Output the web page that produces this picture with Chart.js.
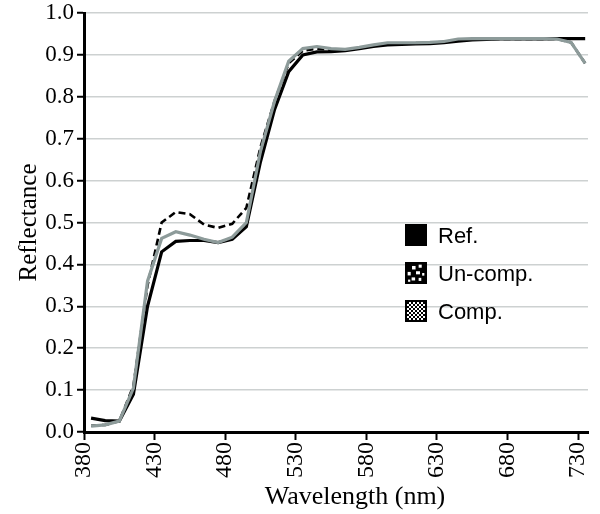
<!DOCTYPE html>
<html><head><meta charset="utf-8">
<script src="https://cdn.jsdelivr.net/npm/chart.js@4.4.0/dist/chart.umd.min.js"></script>
<style>html,body{margin:0;padding:0;background:#fff}</style>
</head><body>
<canvas id="c" width="600" height="514"></canvas>
<script>
const wavelengths = [385,395,405,415,425,435,445,455,465,475,485,495,505,515,525,535,545,555,565,575,585,595,605,615,625,635,645,655,665,675,685,695,705,715,725,735];
const refValues = [0.033,0.027,0.026,0.09,0.30,0.43,0.455,0.457,0.457,0.452,0.46,0.49,0.645,0.77,0.86,0.90,0.907,0.908,0.91,0.915,0.92,0.924,0.925,0.926,0.927,0.929,0.933,0.936,0.937,0.938,0.938,0.938,0.938,0.939,0.939,0.939];
const uncompValues = [0.015,0.017,0.026,0.11,0.35,0.50,0.525,0.52,0.495,0.487,0.497,0.535,0.68,0.79,0.88,0.91,0.915,0.912,0.911,0.916,0.922,0.927,0.927,0.928,0.929,0.931,0.936,0.938,0.938,0.938,0.938,0.938,0.938,0.938,0.93,0.88];
const compValues = [0.014,0.017,0.026,0.105,0.36,0.462,0.478,0.47,0.46,0.452,0.465,0.50,0.67,0.79,0.885,0.915,0.92,0.915,0.913,0.918,0.924,0.929,0.929,0.929,0.93,0.932,0.938,0.939,0.939,0.939,0.939,0.939,0.939,0.938,0.93,0.88];
const xTickValues = [380,430,480,530,580,630,680,730];
const yTickValues = [0,0.1,0.2,0.3,0.4,0.5,0.6,0.7,0.8,0.9,1.0];
const seriesLabels = ['Ref.','Un-comp.','Comp.'];
const xTitle = 'Wavelength (nm)';
const yTitle = 'Reflectance';

const serif = "'Liberation Serif','Times New Roman',serif";
const sans = "'Liberation Sans',Arial,sans-serif";

function drawSwatch(ctx, kind, x, y, s) {
  ctx.save();
  if (kind === 0) {
    ctx.fillStyle = '#000'; ctx.fillRect(x, y, s, s);
  } else if (kind === 1) {
    ctx.fillStyle = '#000'; ctx.fillRect(x, y, s, s);
    ctx.fillStyle = '#fff';
    const r = [[0.32,0.18,0.16,0.16],[0.62,0.12,0.14,0.14],[0.12,0.45,0.14,0.16],[0.5,0.42,0.18,0.14],[0.78,0.5,0.1,0.12],[0.3,0.7,0.16,0.14],[0.62,0.72,0.12,0.14],[0.14,0.8,0.1,0.1]];
    r.forEach(a => ctx.fillRect(x + a[0]*s, y + a[1]*s, a[2]*s, a[3]*s));
  } else {
    ctx.fillStyle = '#000'; ctx.fillRect(x, y, s, s);
    ctx.fillStyle = '#fff'; ctx.fillRect(x+2, y+2, s-4, s-4);
    ctx.fillStyle = '#000';
    for (let i = 0; i < (s-4)/2; i++) for (let j = 0; j < (s-4)/2; j++) {
      if ((i + j) % 2 === 0) ctx.fillRect(x+2+i*2, y+2+j*2, 2, 2);
    }
  }
  ctx.restore();
}

const legendPlugin = {
  id: 'customLegend',
  afterDraw(chart) {
    const ctx = chart.ctx;
    ctx.save();
    ctx.font = '22px ' + sans;
    ctx.fillStyle = '#000';
    ctx.textBaseline = 'middle';
    ctx.textAlign = 'left';
    seriesLabels.forEach((lab, i) => {
      const y = 224 + i * 38;
      drawSwatch(ctx, i, 405, y, 22);
      ctx.fillText(lab, 438, y + 13);
    });
    ctx.restore();
  }
};

const xTitlePlugin = {
  id: 'xTitle',
  afterDraw(chart) {
    const ctx = chart.ctx;
    ctx.save();
    ctx.font = '26px ' + serif;
    ctx.fillStyle = '#000';
    ctx.textAlign = 'center';
    ctx.textBaseline = 'middle';
    ctx.fillText(xTitle, 355, 497);
    ctx.restore();
  }
};

const toPts = arr => wavelengths.map((w, i) => ({x: w, y: arr[i]}));

new Chart(document.getElementById('c'), {
  type: 'line',
  data: {
    datasets: [
      {label: seriesLabels[2], data: toPts(compValues), borderColor: '#8d9b9a', borderWidth: 3.2, pointRadius: 0, tension: 0, order: 0},
      {label: seriesLabels[1], data: toPts(uncompValues), borderColor: '#000', borderWidth: 2.6, borderDash: [7,4], pointRadius: 0, tension: 0, order: 1},
      {label: seriesLabels[0], data: toPts(refValues), borderColor: '#000', borderWidth: 3.2, pointRadius: 0, tension: 0, order: 2}
    ]
  },
  options: {
    responsive: false,
    animation: false,
    layout: {padding: {top: 13, right: 12, left: 0, bottom: 0}},
    plugins: {legend: {display: false}, tooltip: {enabled: false}},
    scales: {
      x: {
        type: 'linear', min: 380, max: 737,
        afterBuildTicks: s => { s.ticks = xTickValues.map(v => ({value: v})); },
        afterFit: s => { s.height = 82; s.paddingLeft = 0; s.paddingRight = 0; },
        grid: {drawOnChartArea: false, tickColor: '#000', tickLength: 8, tickWidth: 2},
        border: {color: '#000', width: 3},
        ticks: {minRotation: 90, maxRotation: 90, padding: 2, color: '#000', font: {family: serif, size: 24}, callback: v => String(v)}
      },
      y: {
        min: 0, max: 1,
        afterBuildTicks: s => { s.ticks = yTickValues.map(v => ({value: v})); },
        afterFit: s => { s.width = 84; s.paddingTop = 0; s.paddingBottom = 0; },
        grid: {color: '#cdd1d1', lineWidth: 1.5, tickColor: '#000', tickLength: 7, tickWidth: 2},
        border: {color: '#000', width: 3},
        ticks: {padding: 3, color: '#000', font: {family: serif, size: 23}, callback: v => v.toFixed(1)},
        title: {display: true, text: yTitle, color: '#000', font: {family: serif, size: 25}, padding: {top: 14, bottom: 0}}
      }
    }
  },
  plugins: [legendPlugin, xTitlePlugin]
});
</script>
</body></html>
